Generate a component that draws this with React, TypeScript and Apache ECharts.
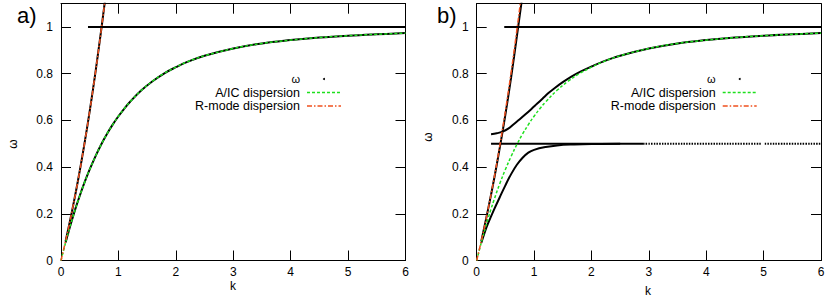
import React, { useEffect, useRef } from "react";
import * as echarts from "echarts";

// A/IC dispersion (green dashed)
const aicK = [0, 0.05, 0.1, 0.15, 0.2, 0.25, 0.3, 0.4, 0.5, 0.6, 0.7, 0.8, 0.9, 1.0, 1.1, 1.2, 1.4, 1.6, 1.8, 2.0, 2.2, 2.5, 3.0, 3.5, 4.0, 4.5, 5.0, 5.5, 6.0];
const aicW = [0, 0.049, 0.095, 0.139, 0.181, 0.221, 0.258, 0.328, 0.390, 0.446, 0.497, 0.542, 0.582, 0.618, 0.650, 0.679, 0.729, 0.769, 0.802, 0.828, 0.851, 0.877, 0.908, 0.930, 0.944, 0.955, 0.963, 0.969, 0.974];
// R-mode dispersion (orange dash-dot)
const rK = [0, 0.1, 0.2, 0.3, 0.4, 0.5, 0.6, 0.7, 0.75, 0.8];
const rW = [0, 0.105, 0.221, 0.348, 0.488, 0.640, 0.806, 0.987, 1.082, 1.182];

// panel a: computed omega (black)
const aBranchK = [0.08, 0.1, 0.15, 0.2, 0.25, 0.3, 0.4, 0.5, 0.6, 0.7, 0.8, 0.9, 1.0, 1.1, 1.2, 1.4, 1.6, 1.8, 2.0, 2.2, 2.5, 3.0, 3.5, 4.0, 4.5, 5.0, 5.5, 6.0];
const aBranchW = [0.077, 0.095, 0.139, 0.181, 0.221, 0.258, 0.328, 0.390, 0.446, 0.497, 0.542, 0.582, 0.618, 0.650, 0.679, 0.729, 0.769, 0.802, 0.828, 0.851, 0.877, 0.908, 0.930, 0.944, 0.955, 0.963, 0.969, 0.974];
const aSteepK = [0.08, 0.1, 0.2, 0.3, 0.4, 0.5, 0.6, 0.7, 0.75, 0.8];
const aSteepW = [0.083, 0.105, 0.221, 0.348, 0.488, 0.640, 0.806, 0.987, 1.082, 1.182];
const aCyclK = [0.47, 6.0];
const aCyclW = [1.0, 1.0];

// panel b: computed omega (black)
const bSteepK = [0.08, 0.2, 0.3, 0.4, 0.5, 0.6, 0.7, 0.75, 0.8];
const bSteepW = [0.083, 0.221, 0.345, 0.48, 0.625, 0.785, 0.96, 1.05, 1.14];
const bLowK = [0.08, 0.15, 0.2, 0.3, 0.4, 0.5, 0.6, 0.7, 0.8, 0.9, 1.0, 1.2, 1.4, 1.7, 2.0, 2.5];
const bLowW = [0.075, 0.128, 0.16, 0.217, 0.27, 0.322, 0.37, 0.41, 0.44, 0.462, 0.474, 0.486, 0.493, 0.497, 0.499, 0.5];
const bUpK = [0.25, 0.35, 0.45, 0.55, 0.65, 0.75, 0.85, 0.95, 1.05, 1.15, 1.25, 1.35, 1.5, 1.65, 1.8, 2.0, 2.2, 2.5, 3.0, 3.5, 4.0, 4.5, 5.0, 5.5, 6.0];
const bUpW = [0.541, 0.545, 0.552, 0.565, 0.585, 0.605, 0.626, 0.648, 0.671, 0.694, 0.717, 0.737, 0.764, 0.788, 0.808, 0.831, 0.852, 0.877, 0.908, 0.930, 0.944, 0.955, 0.963, 0.969, 0.974];
const bCyc1K = [0.48, 6.0];
const bCyc1W = [1.0, 1.0];
const bCyc2SolidK = [0.25, 2.9];
const bCyc2DotK1 = [2.9, 4.95];
const bCyc2DotK2 = [5.02, 6.0];
const bCyc2W = [0.5, 0.5];

const xTicks = [0, 1, 2, 3, 4, 5, 6];
const yTicks = [0, 0.2, 0.4, 0.6, 0.8, 1];

const FONT = "Liberation Sans, Arial, sans-serif";
const GREEN = "#1ee01e";
const ORANGE = "#f0501e";

const zip = (k: number[], w: number[]) => k.map((v, i) => [v, w[i]]);

function xAx(gridIndex: number, top: boolean) {
  return {
    type: "value",
    gridIndex,
    position: top ? "top" : "bottom",
    min: xTicks[0],
    max: xTicks[xTicks.length - 1],
    interval: 1,
    axisLine: { show: true, onZero: false, lineStyle: { color: "#000", width: 1 } },
    axisTick: { show: true, inside: true, length: 10, lineStyle: { color: "#000", width: 1 } },
    axisLabel: { show: !top, color: "#000", fontSize: 12, fontFamily: FONT, margin: 5 },
    splitLine: { show: false },
  };
}
function yAx(gridIndex: number, right: boolean) {
  return {
    type: "value",
    gridIndex,
    position: right ? "right" : "left",
    min: 0,
    max: 1.1,
    interval: 0.2,
    axisLine: { show: true, onZero: false, lineStyle: { color: "#000", width: 1 } },
    axisTick: { show: true, inside: true, length: 10, lineStyle: { color: "#000", width: 1 } },
    axisLabel: {
      show: !right,
      color: "#000",
      fontSize: 12,
      fontFamily: FONT,
      margin: 8,
      formatter: (v: number) => {
        const hit = yTicks.find((t) => Math.abs(t - v) < 1e-6);
        return hit === undefined ? "" : String(hit);
      },
    },
    splitLine: { show: false },
  };
}

function blackLine(name: string, data: number[][], xi: number, yi: number, dotted = false) {
  return {
    type: "line",
    name,
    data,
    xAxisIndex: xi,
    yAxisIndex: yi,
    showSymbol: false,
    smooth: 0.4,
    clip: true,
    lineStyle: { color: "#000", width: 2, type: dotted ? [1.5, 1.2] : "solid" },
    z: 2,
  };
}
function aicLine(xi: number, yi: number) {
  return {
    type: "line",
    name: "A/IC dispersion",
    data: zip(aicK, aicW),
    xAxisIndex: xi,
    yAxisIndex: yi,
    showSymbol: false,
    smooth: 0.4,
    clip: true,
    lineStyle: { color: GREEN, width: 1.5, type: [3, 2] },
    z: 3,
  };
}
function rLine(xi: number, yi: number) {
  return {
    type: "line",
    name: "R-mode dispersion",
    data: zip(rK, rW),
    xAxisIndex: xi,
    yAxisIndex: yi,
    showSymbol: false,
    smooth: 0.4,
    clip: true,
    lineStyle: { color: ORANGE, width: 1.5, type: [5, 2, 1.5, 2] },
    z: 3,
  };
}

function legend(dx: number) {
  const tx = 300 + dx;
  const l0 = 307 + dx;
  const l1 = 341 + dx;
  const txt = (text: string, y: number, size: number) => ({
    type: "text",
    x: tx,
    y,
    style: { text, fill: "#000", fontSize: size, fontFamily: FONT, align: "right", verticalAlign: "middle" },
  });
  return [
    txt("ω", 79, 11),
    { type: "circle", shape: { cx: 324 + dx, cy: 79, r: 1 }, style: { fill: "#000" } },
    txt("A/IC dispersion", 92.5, 12.5),
    { type: "line", shape: { x1: l0, y1: 92.5, x2: l1, y2: 92.5 }, style: { stroke: GREEN, lineWidth: 1.5, lineDash: [3, 2] } },
    txt("R-mode dispersion", 106, 12.5),
    { type: "line", shape: { x1: l0, y1: 106, x2: l1, y2: 106 }, style: { stroke: ORANGE, lineWidth: 1.5, lineDash: [5, 2, 1.5, 2] } },
  ];
}

export default function App() {
  const ref = useRef<HTMLDivElement>(null);
  useEffect(() => {
    if (!ref.current) return;
    const chart = echarts.init(ref.current, null, { renderer: "svg" });
    chart.setOption({
      animation: false,
      backgroundColor: "#fff",
      grid: [
        { left: 61, top: 3.7, width: 344.5, height: 256.8 },
        { left: 476.7, top: 3.7, width: 344.3, height: 256.8 },
      ],
      xAxis: [xAx(0, false), xAx(0, true), xAx(1, false), xAx(1, true)],
      yAxis: [yAx(0, false), yAx(0, true), yAx(1, false), yAx(1, true)],
      series: [
        // panel a
        blackLine("ω", zip(aBranchK, aBranchW), 0, 0),
        blackLine("ω", zip(aSteepK, aSteepW), 0, 0),
        blackLine("ω", zip(aCyclK, aCyclW), 0, 0),
        aicLine(0, 0),
        rLine(0, 0),
        // panel b
        blackLine("ω", zip(bSteepK, bSteepW), 2, 2),
        blackLine("ω", zip(bLowK, bLowW), 2, 2),
        blackLine("ω", zip(bUpK, bUpW), 2, 2),
        blackLine("ω", zip(bCyc1K, bCyc1W), 2, 2),
        blackLine("ω", zip(bCyc2SolidK, bCyc2W), 2, 2),
        blackLine("ω", zip(bCyc2DotK1, bCyc2W), 2, 2, true),
        blackLine("ω", zip(bCyc2DotK2, bCyc2W), 2, 2, true),
        aicLine(2, 2),
        rLine(2, 2),
      ],
      graphic: [
        { type: "text", x: 17, y: 15, style: { text: "a)", fill: "#000", fontSize: 22, fontFamily: FONT, align: "left", verticalAlign: "middle" } },
        { type: "text", x: 437, y: 15, style: { text: "b)", fill: "#000", fontSize: 22, fontFamily: FONT, align: "left", verticalAlign: "middle" } },
        { type: "text", x: 13, y: 144, rotation: Math.PI / 2, style: { text: "ω", fill: "#000", fontSize: 12, fontFamily: FONT, align: "center", verticalAlign: "middle" } },
        { type: "text", x: 428, y: 137, rotation: Math.PI / 2, style: { text: "ω", fill: "#000", fontSize: 12, fontFamily: FONT, align: "center", verticalAlign: "middle" } },
        { type: "text", x: 233, y: 286, style: { text: "k", fill: "#000", fontSize: 12, fontFamily: FONT, align: "center", verticalAlign: "middle" } },
        { type: "text", x: 648, y: 291, style: { text: "k", fill: "#000", fontSize: 12, fontFamily: FONT, align: "center", verticalAlign: "middle" } },
        ...legend(0),
        ...legend(415.7),
      ],
    });
    return () => chart.dispose();
  }, []);
  return <div ref={ref} style={{ width: 830, height: 300, position: "absolute", left: 0, top: 0 }} />;
}
